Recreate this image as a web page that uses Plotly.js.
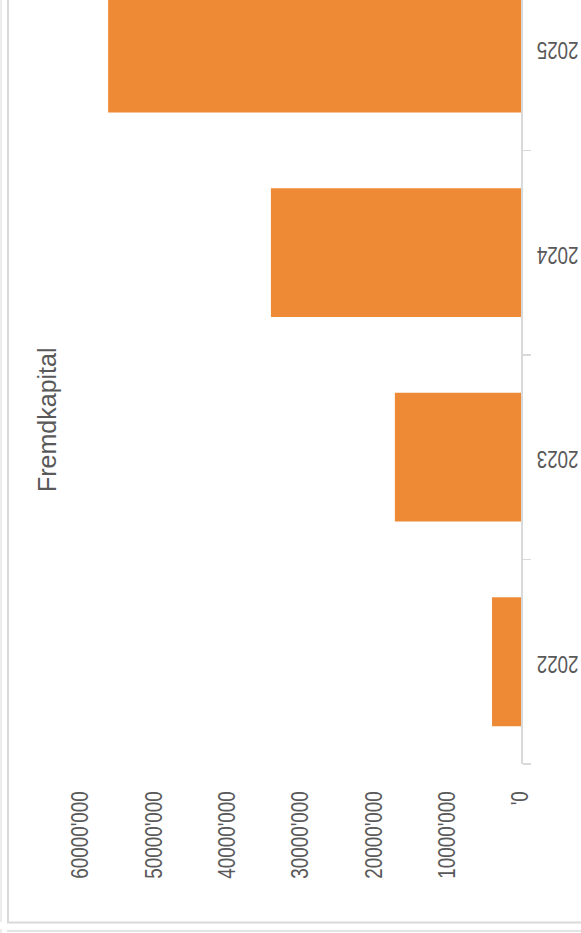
<!DOCTYPE html>
<html>
<head>
<meta charset="utf-8">
<script src="https://cdn.plot.ly/plotly-3.0.1.min.js"></script>
<style>
html,body{margin:0;padding:0;background:#fff;}
#chart{width:581px;height:933px;}
</style>
</head>
<body>
<div id="chart"></div>
<script>
// Data
const years = ["2022", "2023", "2024", "2025"];
const fremdkapital = [3950000, 17200000, 34100000, 56300000];
const valueTicks = [0, 10000000, 20000000, 30000000, 40000000, 50000000, 60000000];
const valueTickLabels = ["'0", "10000'000", "20000'000", "30000'000", "40000'000", "50000'000", "60000'000"];
const chartTitle = "Fremdkapital";

// Layout geometry (pixels)
const W = 581, H = 933;
const mL = 81, mR = 60, mT = 0, mB = 169;
const pw = W - mL - mR, ph = H - mT - mB;
const px = x => (x - mL) / pw;
const py = y => (H - mB - y) / ph;

const sans = '"Liberation Sans", Arial, sans-serif';
const grey = '#595959';

const trace = {
  type: 'bar',
  orientation: 'h',
  y: years,
  x: fremdkapital,
  marker: {color: '#EE8A36', line: {width: 0}},
  hoverinfo: 'x+y'
};

const layout = {
  width: W, height: H,
  margin: {l: mL, r: mR, t: mT, b: mB, pad: 0},
  paper_bgcolor: '#ffffff',
  plot_bgcolor: '#ffffff',
  showlegend: false,
  bargap: 0.37,
  xaxis: {
    range: [60000000, 0],
    tickmode: 'array',
    tickvals: valueTicks,
    ticktext: valueTickLabels,
    tickangle: -90,
    ticks: 'outside',
    ticklen: 17,
    tickcolor: 'rgba(0,0,0,0)',
    showgrid: false,
    zeroline: false,
    showline: false,
    tickfont: {family: sans, size: 23, color: grey},
    fixedrange: true
  },
  yaxis: {
    type: 'category',
    side: 'right',
    range: [-0.5, 3.235],
    tickangle: 180,
    ticks: 'outside',
    tickson: 'boundaries',
    ticklen: 8,
    tickwidth: 1.5,
    tickcolor: '#D9D9D9',
    showline: true,
    linecolor: '#D9D9D9',
    linewidth: 2,
    showgrid: false,
    zeroline: false,
    ticklabelstandoff: 51,
    tickfont: {family: sans, size: 23, color: grey},
    fixedrange: true
  },
  annotations: [{
    text: chartTitle,
    xref: 'paper', yref: 'paper',
    x: px(47), y: py(420),
    xanchor: 'center', yanchor: 'middle',
    textangle: -90,
    showarrow: false,
    font: {family: sans, size: 25, color: grey}
  }],
  shapes: [
    {type: 'line', xref: 'paper', yref: 'paper', x0: px(1), x1: px(1), y0: py(0), y1: py(922), line: {color: '#E6E6E6', width: 1.5}},
    {type: 'line', xref: 'paper', yref: 'paper', x0: px(8), x1: px(8), y0: py(0), y1: py(922.5), line: {color: '#D9D9D9', width: 2}},
    {type: 'line', xref: 'paper', yref: 'paper', x0: px(7), x1: px(581), y0: py(922.5), y1: py(922.5), line: {color: '#D9D9D9', width: 2}},
    {type: 'line', xref: 'paper', yref: 'paper', x0: px(7), x1: px(581), y0: py(931), y1: py(931), line: {color: '#E3E3E3', width: 2}},
    {type: 'line', xref: 'paper', yref: 'paper', x0: px(1), x1: px(1), y0: py(929), y1: py(933), line: {color: '#E6E6E6', width: 1.5}}
  ]
};

// Condense tick label glyphs (reference uses a narrow face) and
// re-centre the upside-down category labels on their bars.
function condense() {
  document.querySelectorAll('#chart g.xtick > text, #chart g.ytick > text').forEach(t => {
    const len = t.getComputedTextLength();
    if (len > 0) {
      t.setAttribute('textLength', (len * 0.82).toFixed(2));
      t.setAttribute('lengthAdjust', 'spacingAndGlyphs');
    }
  });
  document.querySelectorAll('#chart g.ytick > text').forEach(t => {
    const tr = t.getAttribute('transform') || '';
    t.setAttribute('transform', 'translate(0,9) ' + tr);
  });
}

Plotly.newPlot('chart', [trace], layout, {displayModeBar: false, staticPlot: true}).then(condense);
</script>
</body>
</html>
